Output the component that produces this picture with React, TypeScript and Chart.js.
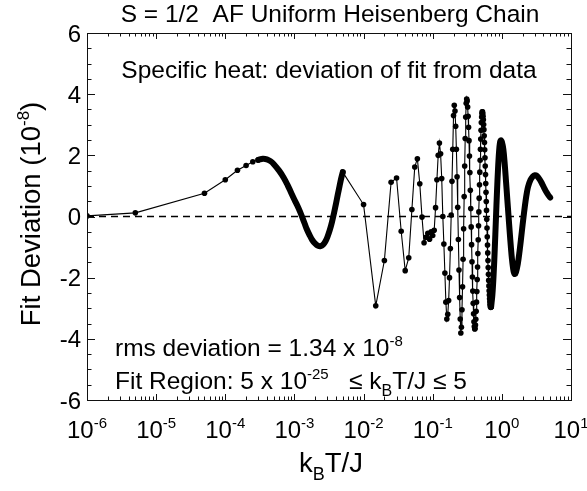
import { useEffect, useRef } from "react";
import { Chart, registerables } from "chart.js";

Chart.register(...registerables);

const FONT = '"Liberation Sans", Arial, Helvetica, sans-serif';

// Low-temperature points (thin line with dots)
const lowT = [1e-6, 5e-6, 5e-5, 1e-4, 1.5e-4, 2e-4, 2.5e-4, 3e-4];
const lowDev = [0.02, 0.12, 0.76, 1.2, 1.51, 1.67, 1.79, 1.85];

// Densely sampled hump (points merge into a thick band)
const bumpT = [
  3e-4, 3.5e-4, 4e-4, 4.5e-4, 5e-4, 6e-4, 7e-4, 8e-4, 9e-4, 1e-3, 1.1e-3, 1.2e-3,
  1.3e-3, 1.4e-3, 1.5e-3, 1.65e-3, 1.8e-3, 2e-3, 2.2e-3, 2.4e-3, 2.6e-3, 2.8e-3,
  3e-3, 3.25e-3, 3.5e-3, 3.75e-3, 4e-3, 4.25e-3, 4.5e-3, 4.75e-3, 5e-3,
];
const bumpDev = [
  1.85, 1.89, 1.87, 1.81, 1.72, 1.5, 1.27, 1.02, 0.77, 0.55, 0.36, 0.17,
  -0.03, -0.22, -0.4, -0.6, -0.76, -0.89, -0.96, -0.97, -0.92, -0.82,
  -0.67, -0.44, -0.17, 0.13, 0.43, 0.73, 1.0, 1.25, 1.45,
];

// Intermediate region (thin line with dots)
const midT = [
  0.005, 0.01, 0.015, 0.02, 0.025, 0.03, 0.035, 0.04, 0.045, 0.05, 0.055, 0.06,
  0.065, 0.07, 0.075, 0.08, 0.085, 0.09, 0.095, 0.1, 0.105, 0.11, 0.115, 0.12,
  0.125, 0.13, 0.135, 0.14, 0.145, 0.15, 0.155, 0.16, 0.165, 0.17, 0.175, 0.18,
  0.185, 0.19, 0.195, 0.2, 0.205, 0.21, 0.215, 0.22, 0.225, 0.23, 0.235, 0.24,
  0.245, 0.25, 0.255, 0.26, 0.265, 0.27, 0.275, 0.28, 0.285, 0.29, 0.295, 0.3,
  0.305, 0.31, 0.315, 0.32, 0.325, 0.33, 0.335, 0.34, 0.345, 0.35, 0.355, 0.36,
  0.365, 0.37, 0.375, 0.38, 0.385, 0.39, 0.395, 0.4, 0.405, 0.41, 0.415, 0.42,
  0.425, 0.43, 0.435, 0.44, 0.445, 0.45, 0.455, 0.46, 0.465, 0.47, 0.475, 0.48,
  0.485, 0.49, 0.495, 0.5, 0.505, 0.51, 0.515, 0.52, 0.525, 0.53, 0.535, 0.54,
  0.545, 0.55, 0.555, 0.56, 0.565, 0.57, 0.575, 0.58, 0.585, 0.59, 0.595, 0.6,
  0.605, 0.61, 0.615, 0.62, 0.625, 0.63, 0.635, 0.64, 0.645, 0.65, 0.655, 0.66,
  0.665, 0.67, 0.675, 0.68, 0.685, 0.69, 0.695, 0.7,
];
const midDev = [
  1.45, 0.39, -2.92, -1.44, 1.12, 1.26, -0.48, -1.77, -1.35, 0.23, 1.62, 1.89,
  1.07, -0.02, -0.86, -0.68, -0.55, -0.74, -0.5, -0.62, -0.45, 0.29, 1.2, 2.0,
  2.4, 2.05, 1.24, 0.0, -0.9, -1.85, -2.8, -3.35, -3.2, -2.75, -2.0, -1.05,
  0.05, 1.15, 2.2, 3.3, 3.64, 3.45, 2.95, 2.2, 1.3, 0.3, -0.75, -1.75,
  -2.65, -3.35, -3.81, -3.62, -3.05, -2.3, -1.4, -0.4, 0.65, 1.65, 2.55, 3.25,
  3.7, 3.84, 3.78, 3.58, 3.28, 2.92, 2.48, 1.98, 1.44, 0.86, 0.26, -0.34,
  -0.92, -1.48, -1.98, -2.44, -2.84, -3.18, -3.44, -3.6, -3.68, -3.66, -3.55, -3.36,
  -3.1, -2.8, -2.45, -2.06, -1.65, -1.21, -0.76, -0.3, 0.15, 0.6, 1.04, 1.45,
  1.84, 2.2, 2.53, 2.82, 3.07, 3.25, 3.37, 3.42, 3.42, 3.37, 3.28, 3.16,
  3.01, 2.84, 2.64, 2.42, 2.18, 1.92, 1.65, 1.37, 1.08, 0.79, 0.49, 0.2,
  -0.09, -0.38, -0.66, -0.93, -1.19, -1.44, -1.67, -1.89, -2.09, -2.27, -2.43, -2.57,
  -2.69, -2.79, -2.87, -2.92, -2.96, -2.97, -2.97, -2.95,
];

// High-temperature tail (dense, merges into a thick band)
const highT = [
  0.7, 0.73, 0.76, 0.79, 0.82, 0.85, 0.88, 0.91, 0.94, 0.97, 1.0, 1.05, 1.1,
  1.15, 1.2, 1.25, 1.3, 1.35, 1.4, 1.45, 1.5, 1.55, 1.6, 1.7, 1.8, 1.9, 2.0,
  2.1, 2.2, 2.3, 2.4, 2.6, 2.8, 3.0, 3.2, 3.5, 3.8, 4.1, 4.4, 4.7, 5.0,
];
const highDev = [
  -2.95, -2.55, -1.9, -1.05, -0.1, 0.8, 1.55, 2.1, 2.42, 2.49, 2.44, 2.2, 1.72,
  1.13, 0.55, 0.0, -0.52, -1.0, -1.4, -1.68, -1.84, -1.88, -1.82, -1.55, -1.15, -0.7, -0.25,
  0.15, 0.5, 0.78, 0.98, 1.2, 1.31, 1.35, 1.33, 1.22, 1.08, 0.93, 0.8, 0.7, 0.62,
];

const xDecades = [-6, -5, -4, -3, -2, -1, 0, 1];
const yTickLabels = [6, 4, 2, 0, -2, -4, -6];

const toPts = (xs: number[], ys: number[]) => xs.map((x, i) => ({ x, y: ys[i] }));

type Run = { t: string; size: number; dy?: number };

function runsWidth(ctx: CanvasRenderingContext2D, runs: Run[]) {
  let w = 0;
  for (const r of runs) {
    ctx.font = `${r.size}px ${FONT}`;
    w += ctx.measureText(r.t).width;
  }
  return w;
}

function drawRuns(
  ctx: CanvasRenderingContext2D,
  runs: Run[],
  x: number,
  y: number,
  align: "left" | "center" | "right"
) {
  const total = runsWidth(ctx, runs);
  let cx = align === "center" ? x - total / 2 : align === "right" ? x - total : x;
  ctx.textAlign = "left";
  ctx.textBaseline = "alphabetic";
  for (const r of runs) {
    ctx.font = `${r.size}px ${FONT}`;
    ctx.fillText(r.t, cx, y + (r.dy || 0));
    cx += ctx.measureText(r.t).width;
  }
}

const BIG = 24;
const TEXT = 24.5;
const SMALL = 15;
const AXIS = 27.5;

const framePlugin = {
  id: "frameAndText",
  afterDraw(chart: any) {
    const { ctx, chartArea: a, scales } = chart;
    const xs = scales.x;
    const ys = scales.y;
    ctx.save();
    ctx.strokeStyle = "#111";
    ctx.fillStyle = "#000";
    ctx.lineWidth = 1;

    // frame
    ctx.strokeRect(a.left + 0.5, a.top + 0.5, a.right - a.left, a.bottom - a.top);

    // x ticks (log decades and minor ticks), top and bottom, pointing inward
    ctx.beginPath();
    for (let d = -6; d <= 1; d++) {
      for (let m = 1; m <= 9; m++) {
        const v = m * Math.pow(10, d);
        if (v > 10 + 1e-9) break;
        const px = Math.round(xs.getPixelForValue(v)) + 0.5;
        const len = m === 1 ? 6 : 3.5;
        ctx.moveTo(px, a.bottom);
        ctx.lineTo(px, a.bottom - len);
        ctx.moveTo(px, a.top);
        ctx.lineTo(px, a.top + len);
      }
    }
    // y ticks every 0.5, major every 2
    for (let k = -12; k <= 12; k++) {
      const v = k * 0.5;
      const py = Math.round(ys.getPixelForValue(v)) + 0.5;
      const len = k % 4 === 0 ? 8 : 4.5;
      ctx.moveTo(a.left, py);
      ctx.lineTo(a.left + len, py);
      ctx.moveTo(a.right, py);
      ctx.lineTo(a.right - len, py);
    }
    ctx.stroke();

    // y tick labels
    for (const v of yTickLabels) {
      const py = ys.getPixelForValue(v);
      drawRuns(ctx, [{ t: String(v), size: BIG }], a.left - 6, py + 8.5, "right");
    }
    // x tick labels
    for (const d of xDecades) {
      const px = xs.getPixelForValue(Math.pow(10, d));
      drawRuns(
        ctx,
        [
          { t: "10", size: BIG },
          { t: String(d), size: SMALL, dy: -10 },
        ],
        px,
        a.bottom + 38,
        "center"
      );
    }

    // title
    drawRuns(ctx, [{ t: "S = 1/2  AF Uniform Heisenberg Chain", size: TEXT }], 330, 22, "center");

    // inner annotations
    drawRuns(ctx, [{ t: "Specific heat: deviation of fit from data", size: TEXT }], 329, 78, "center");
    drawRuns(
      ctx,
      [
        { t: "rms deviation = 1.34 x 10", size: TEXT },
        { t: "-8", size: SMALL, dy: -10 },
      ],
      115,
      356,
      "left"
    );
    drawRuns(
      ctx,
      [
        { t: "Fit Region: 5 x 10", size: TEXT },
        { t: "-25", size: SMALL, dy: -10 },
        { t: "   \u2264 k", size: TEXT },
        { t: "B", size: SMALL + 1, dy: 7 },
        { t: "T/J \u2264 5", size: TEXT },
      ],
      115,
      389,
      "left"
    );

    // x axis title
    drawRuns(
      ctx,
      [
        { t: "k", size: AXIS },
        { t: "B", size: 18, dy: 8 },
        { t: "T/J", size: AXIS },
      ],
      331,
      472,
      "center"
    );

    // y axis title (rotated)
    ctx.save();
    ctx.translate(40, 214);
    ctx.rotate(-Math.PI / 2);
    drawRuns(
      ctx,
      [
        { t: "Fit Deviation (10", size: AXIS },
        { t: "-8", size: 17, dy: -11 },
        { t: ")", size: AXIS },
      ],
      0,
      0,
      "center"
    );
    ctx.restore();

    ctx.restore();
  },
};

export default function App() {
  const ref = useRef<HTMLCanvasElement | null>(null);

  useEffect(() => {
    document.body.style.margin = "0";
    const canvas = ref.current;
    if (!canvas) return;

    const dotStyle = {
      borderColor: "#000",
      borderWidth: 1.1,
      pointRadius: 2.8,
      pointBackgroundColor: "#000",
      pointBorderColor: "#000",
      pointBorderWidth: 0,
      pointHoverRadius: 2.8,
      tension: 0,
    };
    const bandStyle = {
      borderColor: "#000",
      borderWidth: 6,
      pointRadius: 0,
      borderCapStyle: "round" as const,
      borderJoinStyle: "round" as const,
      tension: 0.35,
    };

    const chart = new Chart(canvas, {
      type: "line",
      data: {
        datasets: [
          {
            data: [
              { x: 1e-6, y: 0 },
              { x: 10, y: 0 },
            ],
            borderColor: "#000",
            borderWidth: 1.6,
            borderDash: [7, 5],
            pointRadius: 0,
            order: 5,
          },
          { data: toPts(lowT, lowDev), ...dotStyle, order: 3 },
          { data: toPts(midT, midDev), ...dotStyle, order: 3 },
          { data: toPts(bumpT, bumpDev), ...bandStyle, order: 1 },
          { data: toPts(highT, highDev), ...bandStyle, order: 1 },
        ],
      },
      options: {
        responsive: false,
        animation: false,
        devicePixelRatio: 1,
        parsing: false as any,
        layout: { padding: { left: 87, right: 16, top: 33, bottom: 91 } },
        plugins: { legend: { display: false }, tooltip: { enabled: false } },
        events: [],
        scales: {
          x: { type: "logarithmic", min: 1e-6, max: 10, display: false },
          y: { type: "linear", min: -6, max: 6, display: false },
        },
      },
      plugins: [framePlugin],
    });
    return () => chart.destroy();
  }, []);

  return (
    <div style={{ position: "fixed", left: 0, top: 0, width: 587, height: 491, background: "#fff" }}>
      <canvas ref={ref} width={587} height={491} style={{ width: 587, height: 491 }} />
    </div>
  );
}
